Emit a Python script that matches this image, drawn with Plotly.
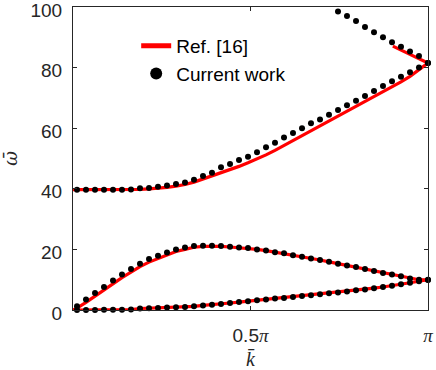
import numpy as np
import plotly.graph_objects as go

# wavenumber grid of the dots, in units of pi
k_dots = [0.0113, 0.0366, 0.0620, 0.0873, 0.1127, 0.1380, 0.1634, 0.1887, 0.2141, 0.2394,
          0.2648, 0.2901, 0.3155, 0.3408, 0.3662, 0.3915, 0.4169, 0.4423, 0.4676, 0.4930,
          0.5183, 0.5437, 0.5690, 0.5944, 0.6197, 0.6451, 0.6704, 0.6958, 0.7211, 0.7465,
          0.7718, 0.7972, 0.8225, 0.8479, 0.8732, 0.8986, 0.9239, 0.9493, 0.9746, 1.0000]

# current work (dots)
w1_dots = [0.0, 0.0, 0.0, 0.05, 0.1, 0.1, 0.15, 0.5, 0.6, 0.7,
           0.8, 0.9, 1.0, 1.2, 1.5, 1.7, 2.0, 2.3, 2.6, 2.9,
           3.2, 3.5, 3.8, 4.0, 4.3, 4.6, 4.9, 5.2, 5.5, 5.8,
           6.1, 6.5, 6.8, 7.2, 7.6, 8.0, 8.5, 9.0, 9.5, 10.0]
w2_dots = [1.2, 3.5, 5.6, 7.6, 9.7, 11.7, 13.5, 15.3, 16.8, 17.9,
           19.0, 20.0, 20.6, 21.1, 21.2, 21.2, 21.1, 20.9, 20.6, 20.5,
           20.0, 19.6, 19.1, 18.7, 18.1, 17.6, 17.0, 16.5, 15.9, 15.3,
           14.7, 14.2, 13.5, 12.9, 12.2, 11.7, 11.1, 10.4, 10.0, 9.9]
w3_dots = [39.7, 39.7, 39.7, 39.7, 39.7, 39.7, 39.8, 40.2, 40.3, 40.7,
           41.1, 41.6, 42.1, 43.0, 44.2, 45.3, 47.1, 48.2, 49.5, 50.6,
           52.1, 53.7, 55.2, 56.9, 58.4, 60.0, 61.6, 62.9, 64.4, 66.0,
           67.6, 69.1, 70.6, 72.3, 73.9, 75.5, 77.0, 78.5, 80.0, 81.5]
k4_dots = [0.7465, 0.7718, 0.7972, 0.8225, 0.8479, 0.8732, 0.8986, 0.9239, 0.9493, 0.9746, 1.0000]
w4_dots = [98.5, 97.0, 95.4, 93.4, 91.7, 90.0, 88.4, 86.9, 85.3, 83.8, 81.5]

# Ref. [16] (red lines)
k_ref = [0.0] + k_dots
w1_ref = [0.0] + w1_dots
w2_ref = [0.0, 0.6, 2.5, 4.6, 6.6, 8.7, 10.7, 12.5, 14.3, 15.8, 17.0,
          18.3, 19.3, 20.0, 20.7, 21.0, 21.1, 21.0, 20.8, 20.6, 20.4,
          20.0, 19.6, 19.1, 18.7, 18.1, 17.6, 17.0, 16.5, 15.9, 15.3,
          14.7, 14.2, 13.5, 12.9, 12.2, 11.7, 11.1, 10.4, 10.0, 9.9]
w3_ref = [39.7, 39.7, 39.7, 39.7, 39.7, 39.7, 39.7, 39.7, 39.8, 40.0, 40.2,
          40.5, 40.9, 41.4, 42.2, 43.2, 44.2, 45.2, 46.2, 47.4, 48.6,
          49.8, 51.2, 52.7, 54.3, 55.9, 57.5, 59.2, 60.9, 62.5, 64.1,
          65.7, 67.3, 68.8, 70.4, 72.0, 73.6, 75.3, 77.1, 79.2, 81.5]
k4_ref = [0.901, 0.95, 1.0]
w4_ref = [87.1, 84.3, 81.5]


def join(parts):
    out = []
    for p in parts:
        out += list(p) + [None]
    return out[:-1]


pi = np.pi
xr = join([np.array(k_ref) * pi] * 3 + [np.array(k4_ref) * pi])
yr = join([w1_ref, w2_ref, w3_ref, w4_ref])
xd = join([np.array(k_dots) * pi] * 3 + [np.array(k4_dots) * pi])
yd = join([w1_dots, w2_dots, w3_dots, w4_dots])

fig = go.Figure()
fig.add_trace(go.Scatter(x=xr, y=yr, mode="lines", name="Ref. [16]",
                         line=dict(color="#ff0000", width=3.2), connectgaps=False))
fig.add_trace(go.Scatter(x=xd, y=yd, mode="markers", name="Current work",
                         marker=dict(color="black", size=6), cliponaxis=False))

axis_common = dict(showline=True, linecolor="#262626", linewidth=1, mirror="allticks",
                   ticks="inside", ticklen=4, tickcolor="#262626", showgrid=False,
                   zeroline=False, ticklabeloverflow="allow", automargin=False,
                   tickfont=dict(family="Arial, Liberation Sans", size=19, color="#262626"))

fig.update_xaxes(range=[0, pi], tickvals=[0.5 * pi, pi],
                 ticktext=["0.5<span style='font-family:Liberation Serif'><i>π</i></span>",
                           "<span style='font-family:Liberation Serif'><i>π</i></span>"],
                 ticklabelstandoff=8,
                 title=dict(text="<i>k̄</i>", font=dict(family="Liberation Serif", size=20, color="#262626"),
                            standoff=16),
                 **axis_common)
fig.update_yaxes(range=[0, 100], tickvals=[0, 20, 40, 60, 80, 100], ticklabelstandoff=6,
                 ticklabelshift=3,
                 title=dict(text="<i>ω̄</i>", font=dict(family="DejaVu Serif", size=18, color="#262626"),
                            standoff=16),
                 **axis_common)

fig.update_layout(width=436, height=370, margin=dict(l=73, r=8, t=7, b=60),
                  plot_bgcolor="white", paper_bgcolor="white",
                  legend=dict(x=0.178, y=0.934, xanchor="left", yanchor="top",
                              bgcolor="rgba(0,0,0,0)", itemsizing="constant",
                              font=dict(family="Arial, Liberation Sans", size=19, color="black")))

# the page body has a default 8px margin; drop it so the figure fills the window
fig.write_html("out.html", config={"displayModeBar": False},
               post_script="document.body.style.margin='0px';")
